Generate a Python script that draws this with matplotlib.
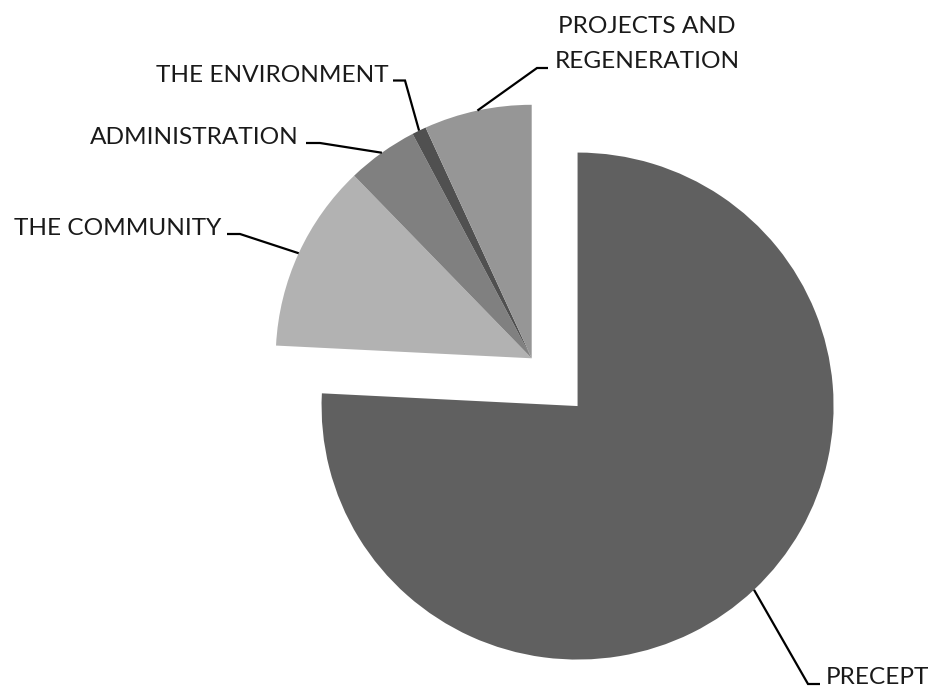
import numpy as np
import matplotlib
matplotlib.use("Agg")
import matplotlib.pyplot as plt

# ---- data ----
labels = ['PRECEPT', 'THE COMMUNITY', 'ADMINISTRATION', 'THE ENVIRONMENT',
          'PROJECTS AND\nREGENERATION']
values = [75.8, 12.0, 4.5, 0.9, 6.8]
colors = ['#606060', '#b2b2b2', '#808080', '#505050', '#969696']
explode = [0.26, 0, 0, 0, 0]

# ---- layout (pixels) ----
W, H = 934, 691
cx, cy = 531.7, 358.3   # pie centre in pixels
RX, RY = 256.0, 253.5   # pie radius in pixels (horizontal / vertical)

plt.rcParams['font.family'] = ['Lato', 'DejaVu Sans']

fig = plt.figure(figsize=(W / 100, H / 100), dpi=100)
ax = fig.add_axes([0, 0, 1, 1])

wedges, _ = ax.pie(values, colors=colors, explode=explode, startangle=90,
                   counterclock=False, radius=1.0, center=(0, 0),
                   wedgeprops=dict(linewidth=0))
ax.set_aspect('auto')
ax.set_xlim(-cx / RX, (W - cx) / RX)
ax.set_ylim(-(H - cy) / RY, cy / RY)
ax.axis('off')


def px(x, y):
    return (x - cx) / RX, (cy - y) / RY


# label placement: (text anchor px, ha, elbow px, end px)
label_layout = [
    ((826, 684), 'left', (808, 684), (820, 684)),
    ((221, 235), 'right', (240, 234), (227, 234)),
    ((299, 144), 'right', (320, 143), (306, 143)),
    ((389, 82), 'right', (405, 80.5), (393, 80.5)),
    ((647, 67.5), 'center', (537, 68), (548, 68)),
]

for w, lab, (tpos, ha, elbow, end) in zip(wedges, labels, label_layout):
    mid = np.deg2rad((w.theta1 + w.theta2) / 2)
    x0 = w.center[0] + w.r * np.cos(mid)
    y0 = w.center[1] + w.r * np.sin(mid)
    ex, ey = px(*elbow)
    nx, ny = px(*end)
    ax.plot([x0, ex, nx], [y0, ey, ny], color='black', lw=1.6,
            solid_capstyle='butt', solid_joinstyle='miter')
    tx, ty = px(*tpos)
    ax.text(tx, ty, lab, ha=ha, va='baseline', fontsize=17.6,
            color='#1a1a1a', linespacing=1.8, multialignment='center')

fig.savefig('out.png', dpi=100)
